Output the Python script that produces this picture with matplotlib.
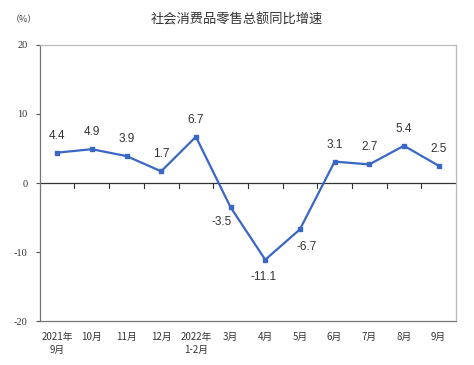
import matplotlib.pyplot as plt
import numpy as np

plt.rcParams['font.family'] = ['Noto Sans CJK SC', 'DejaVu Sans']

months = ["2021年\n9月", "10月", "11月", "12月", "2022年\n1-2月", "3月",
          "4月", "5月", "6月", "7月", "8月", "9月"]
growth = [4.4, 4.9, 3.9, 1.7, 6.7, -3.5, -11.1, -6.7, 3.1, 2.7, 5.4, 2.5]
# label offsets in pixels (dx, dy)
offsets = [(0, 17), (0, 17), (0, 17), (0, 17), (0, 17), (-9, -15),
           (-2, -17), (7, -18), (0, 17), (0, 17), (0, 17), (0, 17)]

fig = plt.figure(figsize=(4.74, 3.65), dpi=100)
ax = fig.add_axes([0.084, 0.12, 0.878, 0.757])

x = np.arange(len(months))
color = "#3a66c4"
ax.plot(x, growth, color=color, lw=1.6, marker="s", ms=3.5, zorder=3)

for xi, v, (dx, dy) in zip(x, growth, offsets):
    ax.annotate(f"{v}", (xi, v), xytext=(dx * 0.72, dy * 0.72),
                textcoords="offset points", ha="center", va="center",
                fontsize=8.5, color="#333333", family=["Liberation Sans", "DejaVu Sans"])

ax.set_xlim(-0.5, len(months) - 0.5)
ax.set_ylim(-20, 20)
ax.set_yticks([-20, -10, 0, 10, 20])
ax.set_yticklabels(["-20", "-10", "0", "10", "20"], family=["Liberation Serif"],
                   fontsize=7.5, color="#333333")
ax.tick_params(axis="y", length=3, width=0.8, color="#555555", pad=6)

# zero axis line with category boundary ticks
ax.axhline(0, color="#333333", lw=0.9, zorder=2)
for b in np.arange(0.5, len(months) - 1, 1):
    ax.plot([b, b], [0, -0.7], color="#333333", lw=0.8, zorder=2)

ax.set_xticks(x)
ax.set_xticklabels(months, fontsize=7, linespacing=1.3, color="#333333")
ax.tick_params(axis="x", length=0, pad=8)
for lab in ax.get_xticklabels():
    lab.set_verticalalignment("top")

for side in ["top", "right"]:
    ax.spines[side].set_color("#bbbbbb")
for side in ["left", "bottom"]:
    ax.spines[side].set_color("#777777")
for s in ax.spines.values():
    s.set_linewidth(0.9)

fig.text(0.5, 0.945, "社会消费品零售总额同比增速", ha="center", va="center",
         fontsize=9.5, color="#333333")
fig.text(0.05, 0.945, "（%）", ha="center", va="center", fontsize=6.5, color="#444444")

fig.savefig("out.png", dpi=100)
